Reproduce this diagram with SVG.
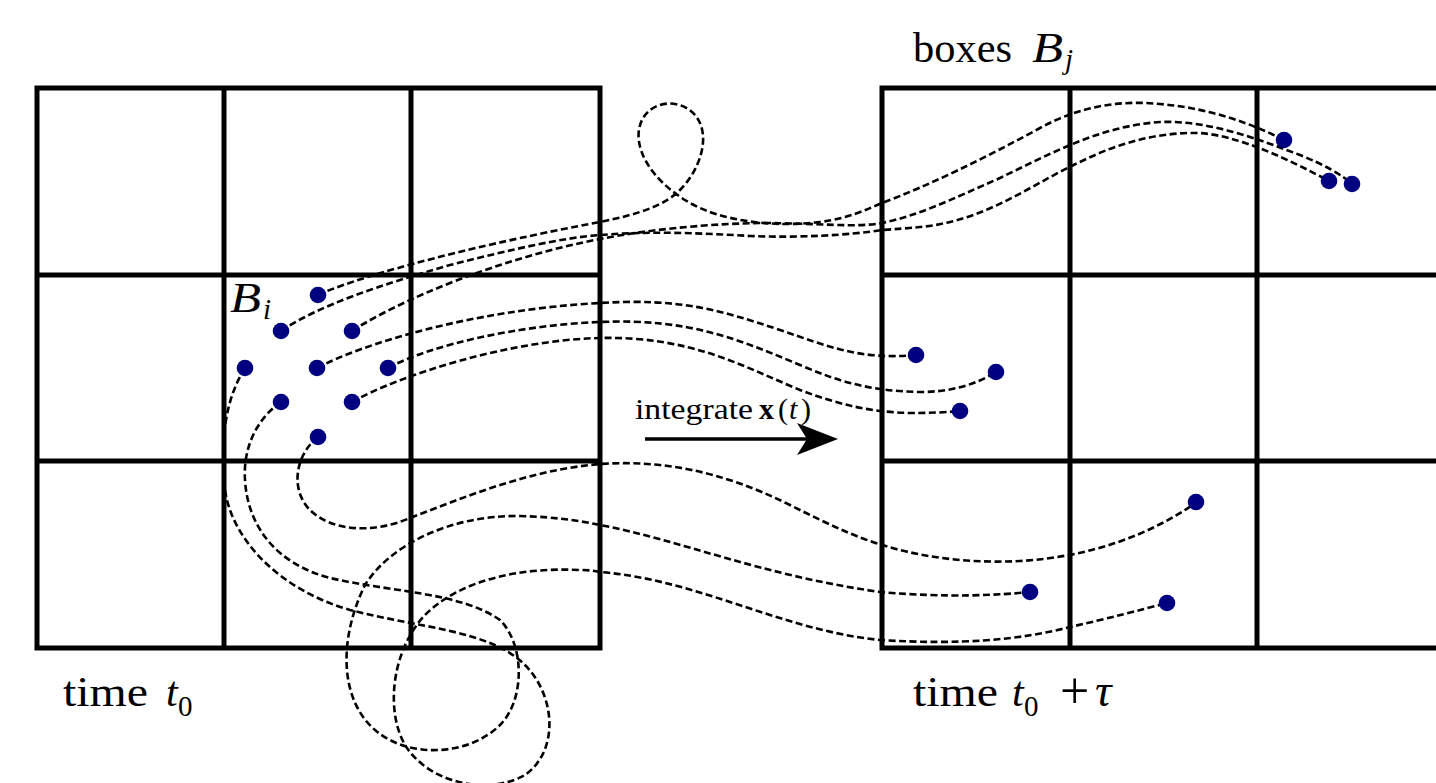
<svg xmlns="http://www.w3.org/2000/svg" width="1436" height="783" viewBox="0 0 1436 783">
  <style>
    .grid { fill: none; stroke: #000; stroke-width: 5; }
    .traj { fill: none; stroke: #000; stroke-width: 2.6; stroke-dasharray: 7 3.5; }
    .dot { fill: #000080; }
    .lbl { font-family: "Liberation Serif", "Times New Roman", serif; fill: #000; }
    .big { font-size: 42px; }
    .sub { font-size: 29px; }
    .mid { font-size: 30px; }
    .it { font-style: italic; }
  </style>
  <rect width="1436" height="783" fill="#fff"/>

  <g id="grid-t0" class="grid">
    <rect x="37" y="88" width="563" height="560"/>
    <line x1="224" y1="88" x2="224" y2="648"/>
    <line x1="411" y1="88" x2="411" y2="648"/>
    <line x1="37" y1="275" x2="600" y2="275"/>
    <line x1="37" y1="461" x2="600" y2="461"/>
  </g>

  <g id="grid-t0tau" class="grid">
    <rect x="882" y="88" width="563" height="560"/>
    <line x1="1070" y1="88" x2="1070" y2="648"/>
    <line x1="1257" y1="88" x2="1257" y2="648"/>
    <line x1="882" y1="275" x2="1445" y2="275"/>
    <line x1="882" y1="461" x2="1445" y2="461"/>
  </g>

  <g id="connectors">
    <path id="traj-u1" class="traj" d="M318,295 C350,280 450,250 600,222 C640,214 665,205 680,190 C700,170 712,135 695,115 C680,98 652,100 642,120 C630,145 650,180 690,203 C720,220 770,228 820,222 C850,218 865,210 882,203 C930,185 985,158 1040,128 C1080,106 1120,100 1160,104 C1210,108 1255,125 1284,140"/>
    <path id="traj-u2" class="traj" d="M281,331 C320,305 380,285 450,265 C510,250 560,238 600,235 C650,231 700,233 750,236 C800,238 850,235 882,230 C910,228 930,227 950,222 C1000,210 1040,180 1080,162 C1120,142 1160,132 1200,133 C1240,136 1290,160 1329,181"/>
    <path id="traj-u3" class="traj" d="M352,331 C400,300 500,258 600,239 C640,231 700,224 760,223 C820,223 855,228 882,223 C920,215 950,200 1000,178 C1050,154 1100,126 1160,122 C1210,120 1260,140 1300,155 C1325,165 1342,175 1352,184"/>
    <path id="traj-m1" class="traj" d="M317,368 C360,345 470,310 600,303 C680,298 720,310 780,330 C830,347 860,360 916,355"/>
    <path id="traj-m2" class="traj" d="M388,368 C430,345 520,325 600,322 C690,318 740,340 800,365 C840,382 870,391 920,392 C950,392 975,385 996,372"/>
    <path id="traj-m3" class="traj" d="M352,402 C400,375 510,340 600,338 C690,336 740,365 800,390 C840,405 870,412 910,413 C935,413 950,412 960,411"/>
    <path id="traj-r" class="traj" d="M318,437 C295,455 290,490 310,510 C330,530 370,535 410,518 C470,495 530,470 600,464 C660,460 720,470 790,505 C830,525 860,540 900,550 C940,560 980,563 1020,561 C1090,557 1150,535 1197,502"/>
    <path id="traj-q" class="traj" d="M281,402 C255,420 243,450 245,480 C248,530 280,565 330,578 C390,592 460,592 500,620 C525,645 525,700 500,725 C470,755 410,760 375,730 C340,700 338,640 365,585 C390,545 450,515 520,516 C560,517 585,522 600,525 C680,540 760,575 880,592 C950,598 1000,595 1030,592"/>
    <path id="traj-p" class="traj" d="M245,368 C225,400 220,440 225,490 C232,540 280,590 350,610 C420,628 490,630 525,665 C555,695 560,750 525,775 C490,795 430,785 405,745 C385,710 392,650 425,615 C460,580 520,567 580,570 C590,570 595,571 600,572 C700,580 780,630 880,640 C960,645 1020,640 1070,627 C1110,618 1140,610 1167,603"/>
    <g id="integrate-arrow">
      <line x1="645" y1="439" x2="808" y2="439" stroke="#000" stroke-width="3.5"/>
      <path d="M838,439 L797,423 L807,439 L797,455 Z" fill="#000"/>
    </g>
  </g>

  <g id="dots-t0" class="dot">
    <circle cx="318" cy="295" r="8.3"/>
    <circle cx="281" cy="331" r="8.3"/>
    <circle cx="352" cy="331" r="8.3"/>
    <circle cx="245" cy="368" r="8.3"/>
    <circle cx="317" cy="368" r="8.3"/>
    <circle cx="388" cy="368" r="8.3"/>
    <circle cx="281" cy="402" r="8.3"/>
    <circle cx="352" cy="402" r="8.3"/>
    <circle cx="318" cy="437" r="8.3"/>
  </g>

  <g id="dots-t0tau" class="dot">
    <circle cx="1284" cy="140" r="8.3"/>
    <circle cx="1329" cy="181" r="8.3"/>
    <circle cx="1352" cy="184" r="8.3"/>
    <circle cx="916" cy="355" r="8.3"/>
    <circle cx="996" cy="372" r="8.3"/>
    <circle cx="960" cy="411" r="8.3"/>
    <circle cx="1196" cy="502" r="8.3"/>
    <circle cx="1030" cy="592" r="8.3"/>
    <circle cx="1167" cy="603" r="8.3"/>
  </g>

  <g id="label-Bi" class="lbl">
    <text class="big it" x="230" y="312" textLength="31" lengthAdjust="spacingAndGlyphs">B</text>
    <text class="sub it" x="263" y="319">i</text>
  </g>

  <g id="label-boxes" class="lbl">
    <text class="big" x="913" y="62" textLength="99" lengthAdjust="spacingAndGlyphs">boxes</text>
    <text class="big it" x="1032" y="62" textLength="31" lengthAdjust="spacingAndGlyphs">B</text>
    <text class="sub it" x="1065" y="69">j</text>
  </g>

  <g id="label-integrate" class="lbl">
    <text class="mid" x="635" y="419" textLength="118" lengthAdjust="spacingAndGlyphs">integrate</text>
    <text class="mid" x="759" y="419" font-weight="bold">x</text>
    <text class="mid" x="778" y="419">(</text>
    <text class="mid it" x="789" y="419">t</text>
    <text class="mid" x="801" y="419">)</text>
  </g>

  <g id="label-t0" class="lbl">
    <text class="big" x="63" y="706" textLength="85" lengthAdjust="spacingAndGlyphs">time</text>
    <text class="big it" x="166" y="706">t</text>
    <text class="sub" x="178" y="716">0</text>
  </g>

  <g id="label-t0tau" class="lbl">
    <text class="big" x="913" y="706" textLength="85" lengthAdjust="spacingAndGlyphs">time</text>
    <text class="big it" x="1012" y="706">t</text>
    <text class="sub" x="1024" y="716">0</text>
    <text x="1060" y="708" style="font-size:52px">+</text>
    <text class="it" x="1095" y="706" style="font-size:46px">τ</text>
  </g>
</svg>
